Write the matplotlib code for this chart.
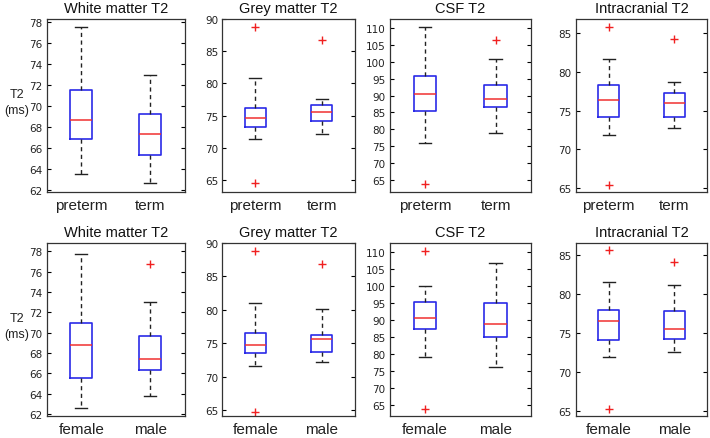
import matplotlib
matplotlib.use("Agg")
import matplotlib.pyplot as plt
from matplotlib import font_manager

titles = ["White matter T2", "Grey matter T2", "CSF T2", "Intracranial T2"]
row_groups = [["preterm", "term"], ["female", "male"]]

# stats per row, per panel, per group: (whislo, q1, med, q3, whishi)
stats_top = [
    [(63.45, 66.8, 68.6, 71.45, 77.55), (62.6, 65.25, 67.3, 69.25, 72.95)],
    [(71.4, 73.2, 74.7, 76.25, 80.8), (72.1, 74.2, 75.6, 76.65, 77.65)],
    [(76.1, 85.4, 90.5, 95.7, 110.1), (79.0, 86.7, 88.9, 93.0, 100.9)],
    [(71.9, 74.2, 76.4, 78.25, 81.65), (72.7, 74.2, 75.95, 77.25, 78.65)],
]
fliers_top = [
    [[], []],
    [[88.85, 64.45], [86.8]],
    [[63.9], [106.4]],
    [[85.75, 65.4], [84.2]],
]
stats_bot = [
    [(62.55, 65.55, 68.75, 70.95, 77.7), (63.8, 66.35, 67.4, 69.7, 73.0)],
    [(71.6, 73.6, 74.8, 76.5, 81.0), (72.2, 73.75, 75.65, 76.2, 80.1)],
    [(79.3, 87.5, 90.6, 95.3, 99.8), (76.2, 85.1, 88.7, 95.0, 106.6)],
    [(71.85, 74.05, 76.5, 78.0, 81.6), (72.55, 74.2, 75.5, 77.9, 81.25)],
]
fliers_bot = [
    [[], [76.7]],
    [[88.8, 64.65], [86.9]],
    [[110.2, 64.0], []],
    [[85.65, 65.25], [84.1]],
]

ylims_top = [(61.75, 78.25), (63.1, 90.0), (61.5, 112.5), (64.45, 86.8)]
ylims_bot = [(61.8, 78.8), (64.1, 90.0), (61.9, 112.5), (64.3, 86.6)]
yticks = [list(range(62, 79, 2)), list(range(65, 91, 5)),
          list(range(65, 111, 5)), list(range(65, 86, 5))]

names = {f.name for f in font_manager.fontManager.ttflist}
narrow = "Liberation Sans Narrow" if "Liberation Sans Narrow" in names else "DejaVu Sans"
main_font = "Liberation Sans"

fig = plt.figure(figsize=(7.10, 4.39), dpi=100)

lefts = [0.066, 0.313, 0.549, 0.811]
widths = [0.194, 0.187, 0.199, 0.185]
bottoms = [0.560, 0.050]
height = 0.394

rows = [(stats_top, fliers_top, ylims_top), (stats_bot, fliers_bot, ylims_bot)]
for r, (stats, fliers, ylims) in enumerate(rows):
    for c in range(4):
        ax = fig.add_axes([lefts[c], bottoms[r], widths[c], height])
        bstats = []
        for g, (wlo, q1, med, q3, whi) in enumerate(stats[c]):
            bstats.append(dict(whislo=wlo, q1=q1, med=med, q3=q3, whishi=whi,
                               fliers=fliers[c][g], label=row_groups[r][g]))
        ax.bxp(bstats, positions=[1, 2], widths=0.32, capwidths=0.18,
               boxprops=dict(color="#2a2ae8", linewidth=1.2),
               medianprops=dict(color="#f03030", linewidth=1.1),
               whiskerprops=dict(color="#222222", linewidth=1.0, linestyle=(0, (3, 2.5))),
               capprops=dict(color="#222222", linewidth=1.0),
               flierprops=dict(marker="+", markeredgecolor="#f02020", markersize=6,
                               markeredgewidth=1.0, linestyle="none"))
        ax.set_xlim(0.5, 2.5)
        ax.set_ylim(*ylims[c])
        ax.set_yticks(yticks[c])
        ax.set_xticks([1, 2])
        ax.set_xticklabels(row_groups[r], fontsize=11, family=main_font, color="#222222")
        for lab in ax.get_yticklabels():
            lab.set_fontfamily(narrow)
            lab.set_fontsize(7.5)
            lab.set_color("#222222")
        ax.tick_params(axis="y", direction="in", right=True, length=3, width=0.8, pad=3)
        ax.tick_params(axis="x", direction="in", length=0, pad=4)
        for sp in ax.spines.values():
            sp.set_color("#333333")
            sp.set_linewidth(0.9)
        ax.set_title(titles[c], fontsize=10.5, family=main_font, color="#111111", pad=5)
        if c == 0:
            ax.set_ylabel("T2\n(ms)", rotation=0, fontsize=9, family=main_font,
                          color="#222222", va="center", ha="center",
                          multialignment="center", linespacing=1.4)
            ax.yaxis.set_label_coords(-0.22, 0.52)

fig.savefig("out.png", dpi=100)
